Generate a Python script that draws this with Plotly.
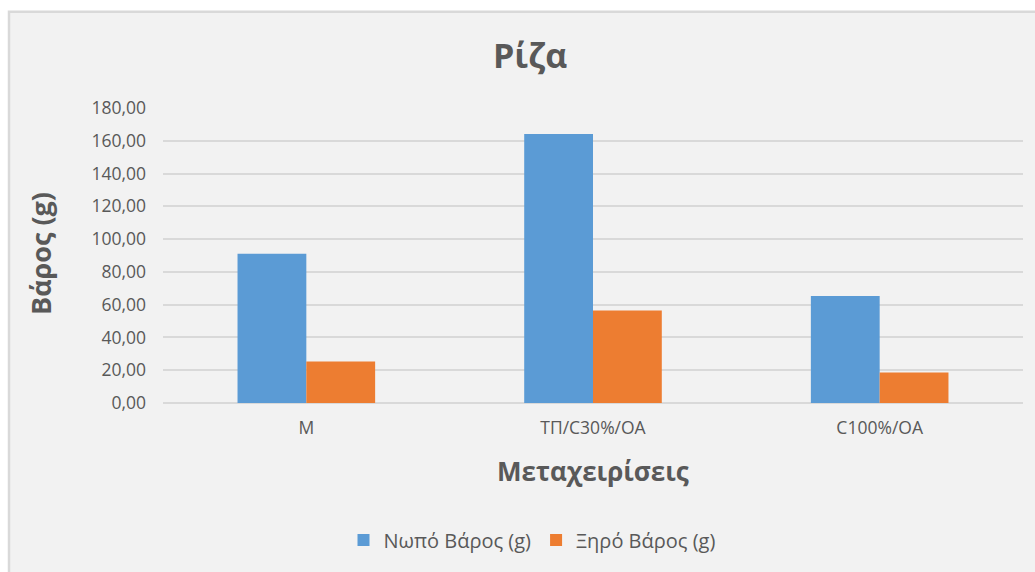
import plotly.graph_objects as go

categories = ["M", "ΤΠ/C30%/OA", "C100%/OA"]
fresh_weight = [91.1, 164.2, 65.3]
dry_weight = [25.3, 56.5, 18.6]
series_names = ["Νωπό Βάρος (g)", "Ξηρό Βάρος (g)"]
y_ticks = [0, 20, 40, 60, 80, 100, 120, 140, 160, 180]

FONT = "Open Sans, sans-serif"
TXT = "#595959"
W, H = 1035, 572
L, R, T, B = 163, 12, 108, 167
PW, PH = W - L - R, H - T - B


def px(x):
    return (x - L) / PW


def py(y):
    return (H - B - y) / PH


fig = go.Figure()
fig.add_trace(go.Bar(x=categories, y=fresh_weight, name=series_names[0],
                     marker=dict(color="#5b9bd5", line=dict(width=0))))
fig.add_trace(go.Bar(x=categories, y=dry_weight, name=series_names[1],
                     marker=dict(color="#ed7d31", line=dict(width=0))))

fig.update_layout(
    width=W, height=H,
    margin=dict(l=L, r=R, t=T, b=B),
    paper_bgcolor="white",
    plot_bgcolor="#f2f2f2",
    separators=",.",
    barmode="group",
    bargap=0.52,
    bargroupgap=0,
    font=dict(family=FONT, color=TXT, size=17),
    showlegend=True,
    legend=dict(orientation="h", x=px(532), xanchor="center", y=py(543), yanchor="middle",
                font=dict(size=20, color=TXT), bgcolor="rgba(0,0,0,0)",
                itemwidth=30, traceorder="normal"),
    xaxis=dict(showgrid=False, showline=False, ticks="", tickfont=dict(size=17.5, color=TXT),
               ticklabelstandoff=12),
    yaxis=dict(range=[0, 180], tickvals=y_ticks, tickformat=".2f", showgrid=True,
               gridcolor="#d9d9d9", gridwidth=1.5, zeroline=True, zerolinecolor="#d9d9d9",
               zerolinewidth=1.5, showline=False, ticks="", tickfont=dict(size=17.5, color=TXT),
               ticklabelstandoff=16),
    shapes=[dict(type="rect", xref="paper", yref="paper", layer="below",
                 x0=px(9), x1=px(1040), y0=py(580), y1=py(11),
                 fillcolor="#f2f2f2", line=dict(color="#d9d9d9", width=2.5))],
    annotations=[
        dict(text="<b>Ρίζα</b>", x=px(530), y=py(55), xref="paper", yref="paper",
             showarrow=False, font=dict(size=34, color=TXT, family=FONT),
             xanchor="center", yanchor="middle"),
        dict(text="<b>Βάρος (g)</b>", x=px(40), y=py(255), xref="paper", yref="paper",
             showarrow=False, textangle=-90, font=dict(size=27, color=TXT, family=FONT),
             xanchor="center", yanchor="middle"),
        dict(text="<b>Μεταχειρίσεις</b>", x=px(593), y=py(473), xref="paper", yref="paper",
             showarrow=False, font=dict(size=26, color=TXT, family=FONT),
             xanchor="center", yanchor="middle"),
    ],
)

fig.write_html("out.html")
